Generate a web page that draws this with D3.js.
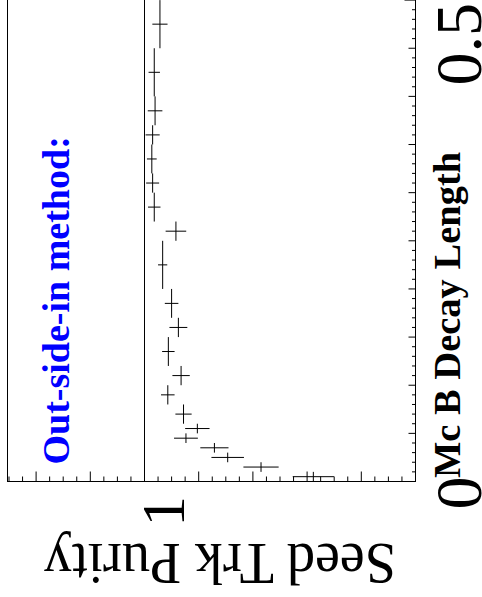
<!DOCTYPE html>
<html>
<head>
<meta charset="utf-8">
<script src="https://cdn.jsdelivr.net/npm/d3@7"></script>
<style>
  html, body { margin: 0; padding: 0; background: #fff; }
  svg { display: block; }
</style>
</head>
<body>
<svg id="chart" width="482" height="597"></svg>
<script>
// ---- data (decay-length bins, purity and its error) ----
const binLow  = [0.00, 0.01, 0.02, 0.03, 0.04, 0.05, 0.06, 0.08, 0.10, 0.12, 0.15, 0.17, 0.20, 0.25, 0.27, 0.30, 0.32, 0.35, 0.37, 0.40, 0.45];
const binHigh = [0.01, 0.02, 0.03, 0.04, 0.05, 0.06, 0.08, 0.10, 0.12, 0.15, 0.17, 0.20, 0.25, 0.27, 0.30, 0.32, 0.35, 0.37, 0.40, 0.45, 0.50];
const purity  = [0.377, 0.570, 0.693, 0.742, 0.847, 0.805, 0.856, 0.914, 0.865, 0.912, 0.875, 0.900, 0.933, 0.884, 0.964, 0.970, 0.973, 0.970, 0.961, 0.964, 0.943];
const purErr  = [0.076, 0.065, 0.060, 0.052, 0.044, 0.045, 0.030, 0.025, 0.032, 0.023, 0.033, 0.025, 0.017, 0.038, 0.023, 0.024, 0.018, 0.026, 0.027, 0.021, 0.028];

const purityLabels = [1];          // labelled purity ticks
const decayLabels  = [0, 0.5];     // labelled decay-length ticks
const xTitle = "Mc B Decay Length";
const yTitle = "Seed Trk Purity";
const note   = "Out-side-in method:";

// ---- layout (picture is the ROOT canvas rotated 90° counter-clockwise) ----
const frameLeft = 7.5, frameRight = 415.5, frameTop = -2, frameBottom = 481.5;
const svg = d3.select("#chart");
svg.append("rect").attr("width", 482).attr("height", 597).attr("fill", "#fff");

// purity runs right -> left, decay length runs bottom -> top
const pScale = d3.scaleLinear().domain([0, 1]).range([415.5, 144.5]);
const dScale = d3.scaleLinear().domain([0, 0.5]).range([481.5, 0.1]);

const serif = "'Liberation Serif', 'Times New Roman', Times, serif";

// clip for data
svg.append("clipPath").attr("id", "fr").append("rect")
  .attr("x", frameLeft).attr("y", frameTop)
  .attr("width", frameRight - frameLeft).attr("height", frameBottom - frameTop);

// frame
svg.append("rect")
  .attr("x", frameLeft).attr("y", frameTop)
  .attr("width", frameRight - frameLeft).attr("height", frameBottom - frameTop)
  .attr("fill", "none").attr("stroke", "#000").attr("stroke-width", 1);

// purity axis ticks (along the bottom, pointing up into the frame)
const pMin = d3.range(0, 1.5001, 0.05);
const ticksP = svg.append("g");
pMin.forEach(v => {
  const k = Math.round(v * 100);
  const len = (k % 100 === 0) ? 15 : (k % 20 === 0 ? 10 : 5);
  const x = pScale(v);
  if (x < frameLeft) return;
  ticksP.append("line").attr("x1", x).attr("x2", x)
    .attr("y1", frameBottom).attr("y2", frameBottom - len)
    .attr("stroke", "#000").attr("stroke-width", 1);
});

// decay axis ticks (along the right side, pointing left into the frame)
const dMin = d3.range(0, 0.5001, 0.01);
const ticksD = svg.append("g");
dMin.forEach(v => {
  const k = Math.round(v * 100);
  const len = (k % 50 === 0) ? 11 : (k % 5 === 0 ? 7 : 3.5);
  const y = dScale(v);
  ticksD.append("line").attr("x1", frameRight).attr("x2", frameRight - len)
    .attr("y1", y).attr("y2", y)
    .attr("stroke", "#000").attr("stroke-width", 1);
});

// reference line at purity = 1
svg.append("line")
  .attr("x1", pScale(1)).attr("x2", pScale(1))
  .attr("y1", frameTop).attr("y2", frameBottom)
  .attr("stroke", "#000").attr("stroke-width", 1);

// data points with error bars
const data = purity.map((p, i) => ({ lo: binLow[i], hi: binHigh[i], p, e: purErr[i] }));
const gd = svg.append("g").attr("clip-path", "url(#fr)");
data.forEach(d => {
  const x = pScale(d.p);
  gd.append("line").attr("x1", x).attr("x2", x)
    .attr("y1", dScale(d.lo)).attr("y2", dScale(d.hi))
    .attr("stroke", "#000").attr("stroke-width", 1);
  const yc = dScale((d.lo + d.hi) / 2);
  gd.append("line").attr("x1", pScale(d.p - d.e)).attr("x2", pScale(d.p + d.e))
    .attr("y1", yc).attr("y2", yc)
    .attr("stroke", "#000").attr("stroke-width", 1);
});

// purity labels
purityLabels.forEach(v => {
  svg.append("text")
    .attr("transform", `translate(${pScale(v) + 39.5},496) rotate(-90)`)
    .attr("text-anchor", "end")
    .attr("font-family", serif).attr("font-size", 61)
    .text(v);
});

// decay labels
decayLabels.forEach(v => {
  const off = v === 0 ? -5 : 3;
  svg.append("text")
    .attr("transform", `translate(481,${dScale(v) + off}) rotate(-90)`)
    .attr("text-anchor", "end")
    .attr("font-family", serif).attr("font-size", 66)
    .text(v);
});

// axis titles
svg.append("text")
  .attr("transform", "translate(460,478) rotate(-90)")
  .attr("text-anchor", "start")
  .attr("font-family", serif).attr("font-weight", "bold").attr("font-size", 38.5)
  .text(xTitle);

svg.append("text")
  .attr("transform", "translate(396,544) rotate(180)")
  .attr("text-anchor", "start")
  .attr("font-family", serif).attr("font-size", 60)
  .attr("textLength", 352).attr("lengthAdjust", "spacingAndGlyphs")
  .text(yTitle);

svg.append("text")
  .attr("transform", "translate(69,464.5) rotate(-90)")
  .attr("text-anchor", "start")
  .attr("font-family", serif).attr("font-weight", "bold").attr("font-size", 38)
  .attr("fill", "#0000ff")
  .text(note);
</script>
</body>
</html>
